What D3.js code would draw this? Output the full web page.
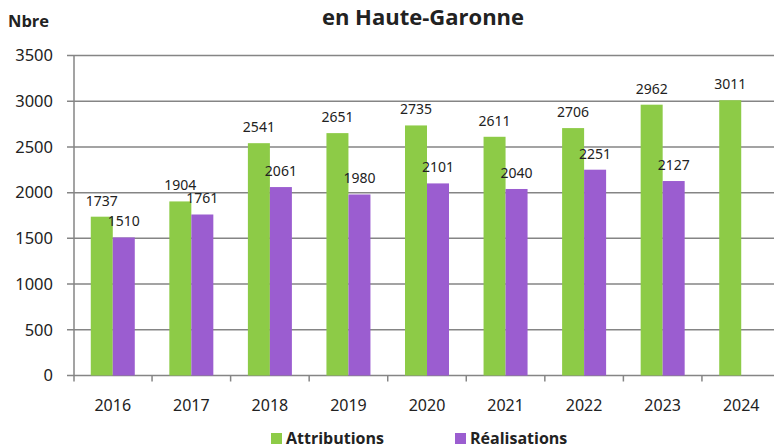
<!DOCTYPE html>
<html><head><meta charset="utf-8">
<script src="https://cdn.jsdelivr.net/npm/d3@7/dist/d3.min.js"></script>
<style>body{margin:0;background:#fff}svg{display:block}</style>
</head><body>
<script>
const years = ["2016","2017","2018","2019","2020","2021","2022","2023","2024"];
const attributions = [1737,1904,2541,2651,2735,2611,2706,2962,3011];
const realisations = [1510,1761,2061,1980,2101,2040,2251,2127,null];
const yTicks = [0,500,1000,1500,2000,2500,3000,3500];
const seriesNames = ["Attributions","Réalisations"];
const colors = ["#8DCB47","#9B5DD0"];

const W=774,H=448;
const svg=d3.select("body").append("svg").attr("width",W).attr("height",H);
const x=d3.scaleBand().domain(years).range([73.5,780.5]);
const y=d3.scaleLinear().domain([0,3500]).range([375.5,55.5]);
const barW=22;

// gridlines
svg.append("g").selectAll("line").data(yTicks).join("line")
  .attr("x1",67).attr("x2",W).attr("y1",d=>y(d)).attr("y2",d=>y(d))
  .attr("stroke","#858585").attr("stroke-width",1.5);
// y axis line
svg.append("line").attr("x1",74).attr("x2",74).attr("y1",y(3500)).attr("y2",y(0)+6)
  .attr("stroke","#858585").attr("stroke-width",1.5);
// x ticks
svg.append("g").selectAll("line").data(years).join("line")
  .attr("x1",d=>x(d)+x.bandwidth()).attr("x2",d=>x(d)+x.bandwidth())
  .attr("y1",y(0)).attr("y2",y(0)+6).attr("stroke","#858585").attr("stroke-width",1.5);

const font="'Noto Sans', 'Open Sans', sans-serif";
// y labels
svg.append("g").selectAll("text").data(yTicks).join("text")
  .attr("x",53).attr("y",d=>y(d)).attr("dy","0.35em").attr("text-anchor","end")
  .attr("font-family",font).attr("font-size",16.5).attr("fill","#222").text(d=>d);
// x labels
svg.append("g").selectAll("text").data(years).join("text")
  .attr("x",d=>x(d)+x.bandwidth()/2).attr("y",411).attr("text-anchor","middle")
  .attr("font-family",font).attr("font-size",16).attr("fill","#222").text(d=>d);

const series=[attributions,realisations];
series.forEach((vals,si)=>{
  const data=years.map((yr,i)=>({yr,v:vals[i]})).filter(d=>d.v!=null);
  const bx=d=>x(d.yr)+x.bandwidth()/2-barW+si*barW;
  svg.append("g").selectAll("rect").data(data).join("rect")
    .attr("x",bx).attr("width",barW).attr("y",d=>y(d.v)).attr("height",d=>y(0)-y(d.v))
    .attr("fill",colors[si]);
  svg.append("g").selectAll("text").data(data).join("text")
    .attr("x",d=>bx(d)+barW/2).attr("y",d=>y(d.v)-11).attr("text-anchor","middle")
    .attr("font-family",font).attr("font-size",14).attr("fill","#222").text(d=>d.v);
});

// title
svg.append("text").attr("x",423).attr("y",25).attr("text-anchor","middle")
  .attr("font-family","'Open Sans', sans-serif").attr("font-weight","bold").attr("font-size",22)
  .attr("fill","#222").text("en Haute-Garonne");
svg.append("text").attr("x",8).attr("y",27)
  .attr("font-family","'Open Sans', sans-serif").attr("font-weight","bold").attr("font-size",16.5)
  .attr("fill","#222").text("Nbre");

// legend
const legX=[271,455];
seriesNames.forEach((n,i)=>{
  svg.append("rect").attr("x",legX[i]).attr("y",433).attr("width",11).attr("height",11).attr("fill",colors[i]);
  svg.append("text").attr("x",legX[i]+15).attr("y",444)
    .attr("font-family","'Open Sans', sans-serif").attr("font-weight","bold").attr("font-size",16)
    .attr("fill","#222").text(n);
});
</script>
</body></html>
